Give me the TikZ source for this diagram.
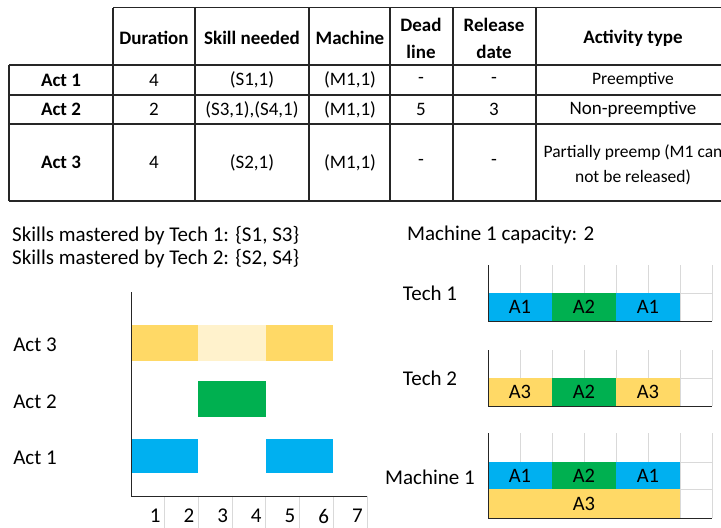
\documentclass[tikz,border=0pt]{standalone}
\usepackage{fontspec}
\setmainfont{Carlito}

\definecolor{actblue}{HTML}{00B0F0}
\definecolor{actgreen}{HTML}{00B050}
\definecolor{actyellow}{HTML}{FFD966}
\definecolor{actpale}{HTML}{FFF2CC}
\definecolor{gridgray}{HTML}{D9D9D9}

\tikzset{
	tblline/.style = {line width=1.1pt, black!85},
	axisline/.style = {line width=1pt, black!85},
	gridline/.style = {line width=0.8pt, gridgray},
	headcell/.style = {inner sep=0pt, align=center, font=\fontsize{19}{27}\selectfont\bfseries},
	bodycell/.style = {inner sep=0pt, align=center, font=\fontsize{19}{25}\selectfont},
	smallcell/.style = {bodycell, font=\fontsize{17.5}{25}\selectfont},
	plaintext/.style = {inner sep=0pt, font=\fontsize{21}{24}\selectfont},
	bartext/.style = {inner sep=0pt, font=\fontsize{20.5}{23}\selectfont}
}

\begin{document}
\begin{tikzpicture}[x=1pt, y=-1pt]
	\useasboundingbox (0,0) rectangle (721,528);
	\clip (0,0) rectangle (721,528);

	% table
	\draw[tblline] (113,7.5) -- (730,7.5);
	\foreach \y in {65,95,124,201}
		\draw[tblline] (9,\y) -- (730,\y);
	\draw[tblline] (9,65) -- (9,201);
	\foreach \x in {113,195,309,390,453,536,730}
		\draw[tblline] (\x,7.5) -- (\x,201);

	\node[headcell] (hDur) at (154,38) {Duration};
	\node[headcell] (hSkill) at (252,38) {Skill needed};
	\node[headcell] (hMach) at (350,38) {Machine};
	\node[headcell] (hDead) at (421,38) {Dead\\line};
	\node[headcell] (hRel) at (494,38) {Release\\date};
	\node[headcell] (hType) at (633,38) {Activity type};

	\node[headcell] (rAct1) at (61,80) {Act 1};
	\node[bodycell] (rDur1) at (154,80) {4};
	\node[bodycell] (rSkill1) at (252,80) {(S1,1)};
	\node[bodycell] (rMach1) at (350,80) {(M1,1)};
	\node[bodycell] (rDead1) at (421,80) {-};
	\node[bodycell] (rRel1) at (494,80) {-};
	\node[smallcell] (rType1) at (633,80) {Preemptive};

	\node[headcell] (rAct2) at (61,109.5) {Act 2};
	\node[bodycell] (rDur2) at (154,109.5) {2};
	\node[bodycell] (rSkill2) at (252,109.5) {(S3,1),(S4,1)};
	\node[bodycell] (rMach2) at (350,109.5) {(M1,1)};
	\node[bodycell] (rDead2) at (421,109.5) {5};
	\node[bodycell] (rRel2) at (494,109.5) {3};
	\node[bodycell] (rType2) at (633,109.5) {Non-preemptive};

	\node[headcell] (rAct3) at (61,162.5) {Act 3};
	\node[bodycell] (rDur3) at (154,162.5) {4};
	\node[bodycell] (rSkill3) at (252,162.5) {(S2,1)};
	\node[bodycell] (rMach3) at (350,162.5) {(M1,1)};
	\node[bodycell] (rDead3) at (421,162.5) {-};
	\node[bodycell] (rRel3) at (494,162.5) {-};
	\node[smallcell] (rType3) at (633,165) {Partially preemp (M1 can\\not be released)};

	% notes
	\node[plaintext, anchor=west] (skill1) at (12,236) {Skills mastered by Tech 1: \{S1, S3\}};
	\node[plaintext, anchor=west] (skill2) at (12,259) {Skills mastered by Tech 2: \{S2, S4\}};
	\node[plaintext, anchor=west] (capa) at (407,235) {Machine 1 capacity: 2};

	% gantt of the activities
	\fill[actyellow] (131,325) rectangle (198.4,361);
	\fill[actpale] (198.4,325) rectangle (265.9,361);
	\fill[actyellow] (265.9,325) rectangle (333.3,361);
	\fill[actgreen] (198.4,381) rectangle (265.9,417);
	\fill[actblue] (131,439) rectangle (198.4,473);
	\fill[actblue] (265.9,439) rectangle (333.3,473);
	\foreach \i in {1,...,7}
		\draw[gridline] (131+33.71*\i,496) -- (131+33.71*\i,528);
	\foreach \i in {1,...,7}
		\node[plaintext, anchor=east] (t\i) at (131+33.71*\i-4,516) {\i};
	\draw[axisline] (131,292) -- (131,496) -- (367,496);
	\node[plaintext] (gAct3) at (35,345) {Act 3};
	\node[plaintext] (gAct2) at (35,402) {Act 2};
	\node[plaintext] (gAct1) at (35,458) {Act 1};

	% resources
	\foreach \top/\bot in {265/321, 350/406, 433/518} {
		\foreach \i in {1,...,7}
			\draw[gridline] (488+32*\i,\top) -- (488+32*\i,\bot);
	}
	\foreach \y in {293,378,462,489}
		\draw[gridline] (488,\y) -- (712,\y);

	\fill[actblue] (488,293) rectangle (552,321);
	\fill[actgreen] (552,293) rectangle (616,321);
	\fill[actblue] (616,293) rectangle (680,321);
	\node[bartext] (b11) at (520,307) {A1};
	\node[bartext] (b12) at (584,307) {A2};
	\node[bartext] (b13) at (648,307) {A1};

	\fill[actyellow] (488,378) rectangle (552,406);
	\fill[actgreen] (552,378) rectangle (616,406);
	\fill[actyellow] (616,378) rectangle (680,406);
	\node[bartext] (b21) at (520,392) {A3};
	\node[bartext] (b22) at (584,392) {A2};
	\node[bartext] (b23) at (648,392) {A3};

	\fill[actblue] (488,462) rectangle (552,489);
	\fill[actgreen] (552,462) rectangle (616,489);
	\fill[actblue] (616,462) rectangle (680,489);
	\fill[actyellow] (488,489) rectangle (680,518);
	\node[bartext] (b31) at (520,475.5) {A1};
	\node[bartext] (b32) at (584,475.5) {A2};
	\node[bartext] (b33) at (648,475.5) {A1};
	\node[bartext] (b34) at (584,503.5) {A3};

	\foreach \top/\bot in {265/321, 350/406, 433/518}
		\draw[axisline] (488,\top) -- (488,\bot) -- (712,\bot);

	\node[plaintext] (lTech1) at (430,293) {Tech 1};
	\node[plaintext] (lTech2) at (430,378) {Tech 2};
	\node[plaintext] (lMach1) at (430,477) {Machine 1};
\end{tikzpicture}
\end{document}
